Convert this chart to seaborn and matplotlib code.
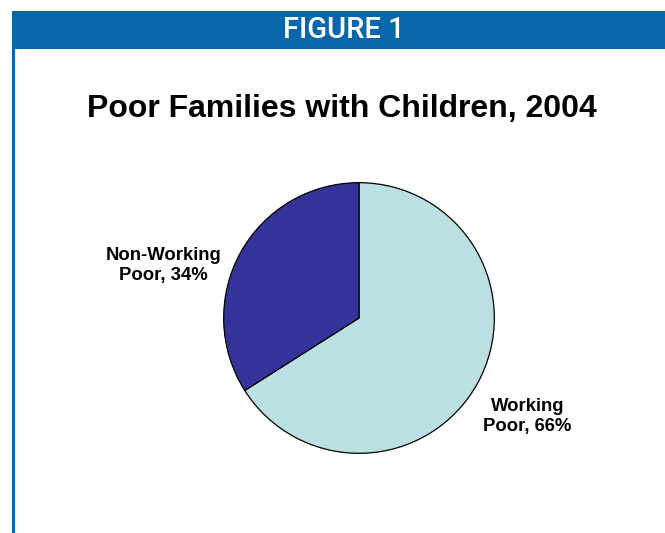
import matplotlib
matplotlib.use("Agg")
import matplotlib.pyplot as plt
from matplotlib.patches import Rectangle
import seaborn as sns

categories = ["Working\nPoor, 66%", "Non-Working\nPoor, 34%"]
values = [66, 34]
colors = ["#BBE0E3", "#333399"]
title = "Poor Families with Children, 2004"
header = "FIGURE 1"

sns.set_theme(style="white")
plt.rcParams['font.family'] = ['Liberation Sans', 'DejaVu Sans']

W, H = 665, 533
fig = plt.figure(figsize=(W / 100, H / 100), dpi=100)
fig.patch.set_facecolor("white")

def fx(px):
    return px / W

def fy(py):
    return 1 - py / H

blue = "#0867A8"
# header bar
fig.patches.append(Rectangle((fx(12), fy(49)), fx(665 - 12), (49 - 11) / H,
                             transform=fig.transFigure, facecolor=blue,
                             edgecolor="none", zorder=0))
# left border line
fig.patches.append(Rectangle((fx(12), 0), fx(2.5), fy(11),
                             transform=fig.transFigure, facecolor=blue,
                             edgecolor="none", zorder=0))
fig.text(fx(344), fy(30), header, color="white", fontsize=21,
         family=["Roboto", "DejaVu Sans"], fontweight="medium",
         ha="center", va="center")
fig.text(fx(342), fy(109), title, color="black", fontsize=23,
         fontweight="bold", ha="center", va="center")

cx, cy, r = 359, 318, 136
ax = fig.add_axes([fx(cx - r), (H - cy - r) / H, 2 * r / W, 2 * r / H])
wedges, _ = ax.pie(values, colors=colors, startangle=90, counterclock=False,
                   wedgeprops=dict(edgecolor="black", linewidth=0.9))
ax.set_xlim(-1.005, 1.005)
ax.set_ylim(-1.005, 1.005)
ax.set_axis_off()

label_pos = [(1.245, -0.73), (-1.445, 0.385)]
for lab, (x, y) in zip(categories, label_pos):
    ax.text(x, y, lab, ha="center", va="center", fontsize=13.3, color="black",
            fontweight="bold", linespacing=1.22, clip_on=False)

fig.savefig("out.png", dpi=100, facecolor="white")
